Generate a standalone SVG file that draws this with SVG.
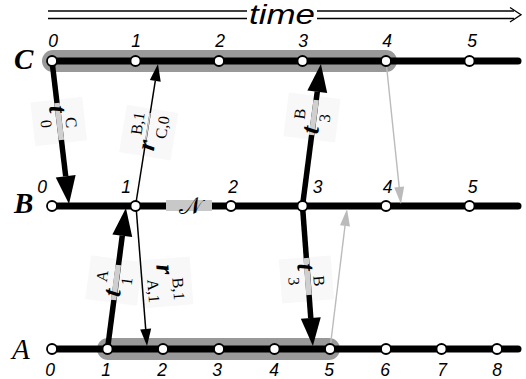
<svg xmlns="http://www.w3.org/2000/svg" width="526" height="379" viewBox="0 0 526 379">
<style>
.hl{fill:#999}
.tl{stroke:#000;stroke-width:7;stroke-linecap:round;fill:none}
.nd{fill:#fff;stroke:#000;stroke-width:1.8}
.num{font-family:"Liberation Sans",Arial,sans-serif;font-style:italic;font-size:17.5px;text-anchor:middle}
.lane{font-family:"Liberation Serif","Times New Roman",serif;font-style:italic;font-weight:bold;font-size:29px}
.thick{stroke:#000;stroke-width:5.5;fill:none;marker-end:url(#hThick)}
.thin{stroke:#000;stroke-width:1.5;fill:none;marker-end:url(#hThin)}
.grey{stroke:#bbb;stroke-width:1.4;fill:none;marker-end:url(#hGrey)}
.seg{stroke:#cfcfcf;fill:none}
.lbg{fill:#f8f8f8}
.lbl{font-family:"Liberation Serif","Times New Roman",serif}
.main{font-style:italic;font-weight:bold;font-size:26px}
.idx{font-size:16px}
.time{stroke:#000;stroke-width:1.3;fill:none}
</style>
<defs>
<marker id="hThick" markerUnits="userSpaceOnUse" orient="auto" refX="0" refY="0" markerWidth="30" markerHeight="22" overflow="visible"><path d="M0,-10 L28,0 L0,10 z" fill="#000"/></marker>
<marker id="hThin" markerUnits="userSpaceOnUse" orient="auto" refX="0" refY="0" markerWidth="18" markerHeight="12" overflow="visible"><path d="M0,-5.5 L17,0 L0,5.5 z" fill="#000"/></marker>
<marker id="hGrey" markerUnits="userSpaceOnUse" orient="auto" refX="0" refY="0" markerWidth="18" markerHeight="12" overflow="visible"><path d="M0,-5 L17,0 L0,5 z" fill="#bbb"/></marker>
</defs>
<rect width="526" height="379" fill="#fff"/>

<g id="time-axis">
<line class="time" x1="48" y1="11" x2="514" y2="11"/>
<line class="time" x1="48" y1="18.5" x2="514" y2="18.5"/>
<path class="time" d="M510,7.5 L521,14.75 L510,22"/>
<rect x="247" y="3" width="70" height="22" fill="#fff"/>
<text x="282" y="24" font-family="Liberation Sans, Arial, sans-serif" font-style="italic" font-size="27" text-anchor="middle" textLength="66" lengthAdjust="spacingAndGlyphs">time</text>
</g>

<g id="highlights">
<rect class="hl" x="42" y="50" width="355" height="22" rx="11"/>
<rect class="hl" x="97" y="338" width="243" height="22" rx="11"/>
</g>

<g id="timelines">
<line class="tl" x1="52" y1="61" x2="518" y2="61"/>
<line class="tl" x1="52" y1="206" x2="518" y2="206"/>
<line class="tl" x1="52" y1="349" x2="518" y2="349"/>
<rect x="166" y="200" width="46" height="11" fill="#c8c8c8"/>
</g>

<g id="label-backgrounds">
<rect class="lbg" transform="translate(49,106.4) rotate(83.6)" x="-6" y="-34" width="44" height="52"/>
<rect class="lbg" transform="translate(153.7,151.6) rotate(-80.8)" x="-6" y="-34" width="48" height="52"/>
<rect class="lbg" transform="translate(156.2,265.1) rotate(85.5)" x="-6" y="-34" width="48" height="52"/>
<rect class="lbg" transform="translate(119.8,297.5) rotate(-82.3)" x="-6" y="-34" width="44" height="52"/>
<rect class="lbg" transform="translate(317.9,134.4) rotate(-83)" x="-6" y="-34" width="44" height="52"/>
<rect class="lbg" transform="translate(297.2,264.1) rotate(85.5)" x="-6" y="-34" width="44" height="52"/>
</g>

<g id="connectors">
<line class="thick" x1="52" y1="61" x2="65.7" y2="176.2"/>
<line class="seg" stroke-width="5.5" x1="57" y1="103" x2="61.4" y2="140"/>
<line class="thin" x1="135.5" y1="206" x2="155.3" y2="80.8"/>
<line class="seg" stroke-width="1.5" x1="144.6" y1="147" x2="150.1" y2="113"/>
<line class="thin" x1="136" y1="206" x2="145.7" y2="329"/>
<line class="thick" x1="107.5" y1="349" x2="122.3" y2="235.7"/>
<line class="seg" stroke-width="5.5" x1="113.6" y1="300" x2="118.3" y2="265"/>
<line class="thick" x1="302.5" y1="206" x2="317.3" y2="91.7"/>
<line class="seg" stroke-width="5.5" x1="316.2" y1="100" x2="311.5" y2="135"/>
<line class="thick" x1="302.5" y1="206" x2="310.8" y2="318.1"/>
<line class="seg" stroke-width="5.5" x1="306.1" y1="258" x2="309" y2="295"/>
<line class="grey" x1="386" y1="61" x2="399.2" y2="187.1"/>
<line class="grey" x1="330" y1="349" x2="345" y2="225.9"/>
</g>

<g id="lane-C">
<text class="lane" x="14" y="69">C</text>
<g id="C0"><circle class="nd" cx="52" cy="61" r="5"/><text class="num" x="53" y="47">0</text></g>
<g id="C1"><circle class="nd" cx="135.5" cy="61" r="5"/><text class="num" x="136" y="47">1</text></g>
<g id="C2"><circle class="nd" cx="219" cy="61" r="5"/><text class="num" x="220" y="47">2</text></g>
<g id="C3"><circle class="nd" cx="302.5" cy="61" r="5"/><text class="num" x="303" y="47">3</text></g>
<g id="C4"><circle class="nd" cx="386" cy="61" r="5"/><text class="num" x="387" y="47">4</text></g>
<g id="C5"><circle class="nd" cx="469.5" cy="61" r="5"/><text class="num" x="472" y="47">5</text></g>
</g>

<g id="lane-B">
<text class="lane" x="14" y="213">B</text>
<g id="B0"><circle class="nd" cx="52" cy="206" r="5"/><text class="num" x="42" y="193">0</text></g>
<g id="B1"><circle class="nd" cx="135.5" cy="206" r="5"/><text class="num" x="126" y="193">1</text></g>
<g id="B2"><circle class="nd" cx="231" cy="206" r="5"/><text class="num" x="233" y="193">2</text></g>
<g id="B3"><circle class="nd" cx="302.5" cy="206" r="5"/><text class="num" x="317.5" y="193">3</text></g>
<g id="B4"><circle class="nd" cx="386" cy="206" r="5"/><text class="num" x="387.5" y="193">4</text></g>
<g id="B5"><circle class="nd" cx="469.5" cy="206" r="5"/><text class="num" x="472.5" y="193">5</text></g>
<text x="190" y="214" font-family="DejaVu Sans, DejaVu Serif, sans-serif" font-size="24" text-anchor="middle">𝒩</text>
</g>

<g id="lane-A">
<text class="lane" x="12" y="359" style="font-weight:normal">A</text>
<g id="A0"><circle class="nd" cx="52" cy="349" r="5"/><text class="num" x="50" y="376">0</text></g>
<g id="A1"><circle class="nd" cx="107.5" cy="349" r="5"/><text class="num" x="106" y="376">1</text></g>
<g id="A2"><circle class="nd" cx="163" cy="349" r="5"/><text class="num" x="162" y="376">2</text></g>
<g id="A3"><circle class="nd" cx="219" cy="349" r="5"/><text class="num" x="217" y="376">3</text></g>
<g id="A4"><circle class="nd" cx="274.5" cy="349" r="5"/><text class="num" x="274" y="376">4</text></g>
<g id="A5"><circle class="nd" cx="330" cy="349" r="5"/><text class="num" x="329" y="376">5</text></g>
<g id="A6"><circle class="nd" cx="386" cy="349" r="5"/><text class="num" x="385" y="376">6</text></g>
<g id="A7"><circle class="nd" cx="441.5" cy="349" r="5"/><text class="num" x="442" y="376">7</text></g>
<g id="A8"><circle class="nd" cx="497" cy="349" r="5"/><text class="num" x="497" y="376">8</text></g>
</g>

<g id="connector-labels">
<text class="lbl" transform="translate(49,106.4) rotate(83.6)"><tspan class="main">t</tspan><tspan class="idx" x="13" y="-15">C</tspan><tspan class="idx" x="13" y="10">0</tspan></text>
<text class="lbl" transform="translate(153.7,151.6) rotate(-80.8)"><tspan class="main">r</tspan><tspan class="idx" x="14" y="-15">B,1</tspan><tspan class="idx" x="14" y="10">C,0</tspan></text>
<text class="lbl" transform="translate(156.2,265.1) rotate(85.5)"><tspan class="main">r</tspan><tspan class="idx" x="14" y="-15">B,1</tspan><tspan class="idx" x="14" y="10">A,1</tspan></text>
<text class="lbl" transform="translate(119.8,297.5) rotate(-82.3)"><tspan class="main">t</tspan><tspan class="idx" x="13" y="-15">A</tspan><tspan class="idx" x="13" y="10">1</tspan></text>
<text class="lbl" transform="translate(317.9,134.4) rotate(-83)"><tspan class="main">t</tspan><tspan class="idx" x="13" y="-15">B</tspan><tspan class="idx" x="13" y="10">3</tspan></text>
<text class="lbl" transform="translate(297.2,264.1) rotate(85.5)"><tspan class="main">t</tspan><tspan class="idx" x="13" y="-15">B</tspan><tspan class="idx" x="13" y="10">3</tspan></text>
</g>
</svg>
